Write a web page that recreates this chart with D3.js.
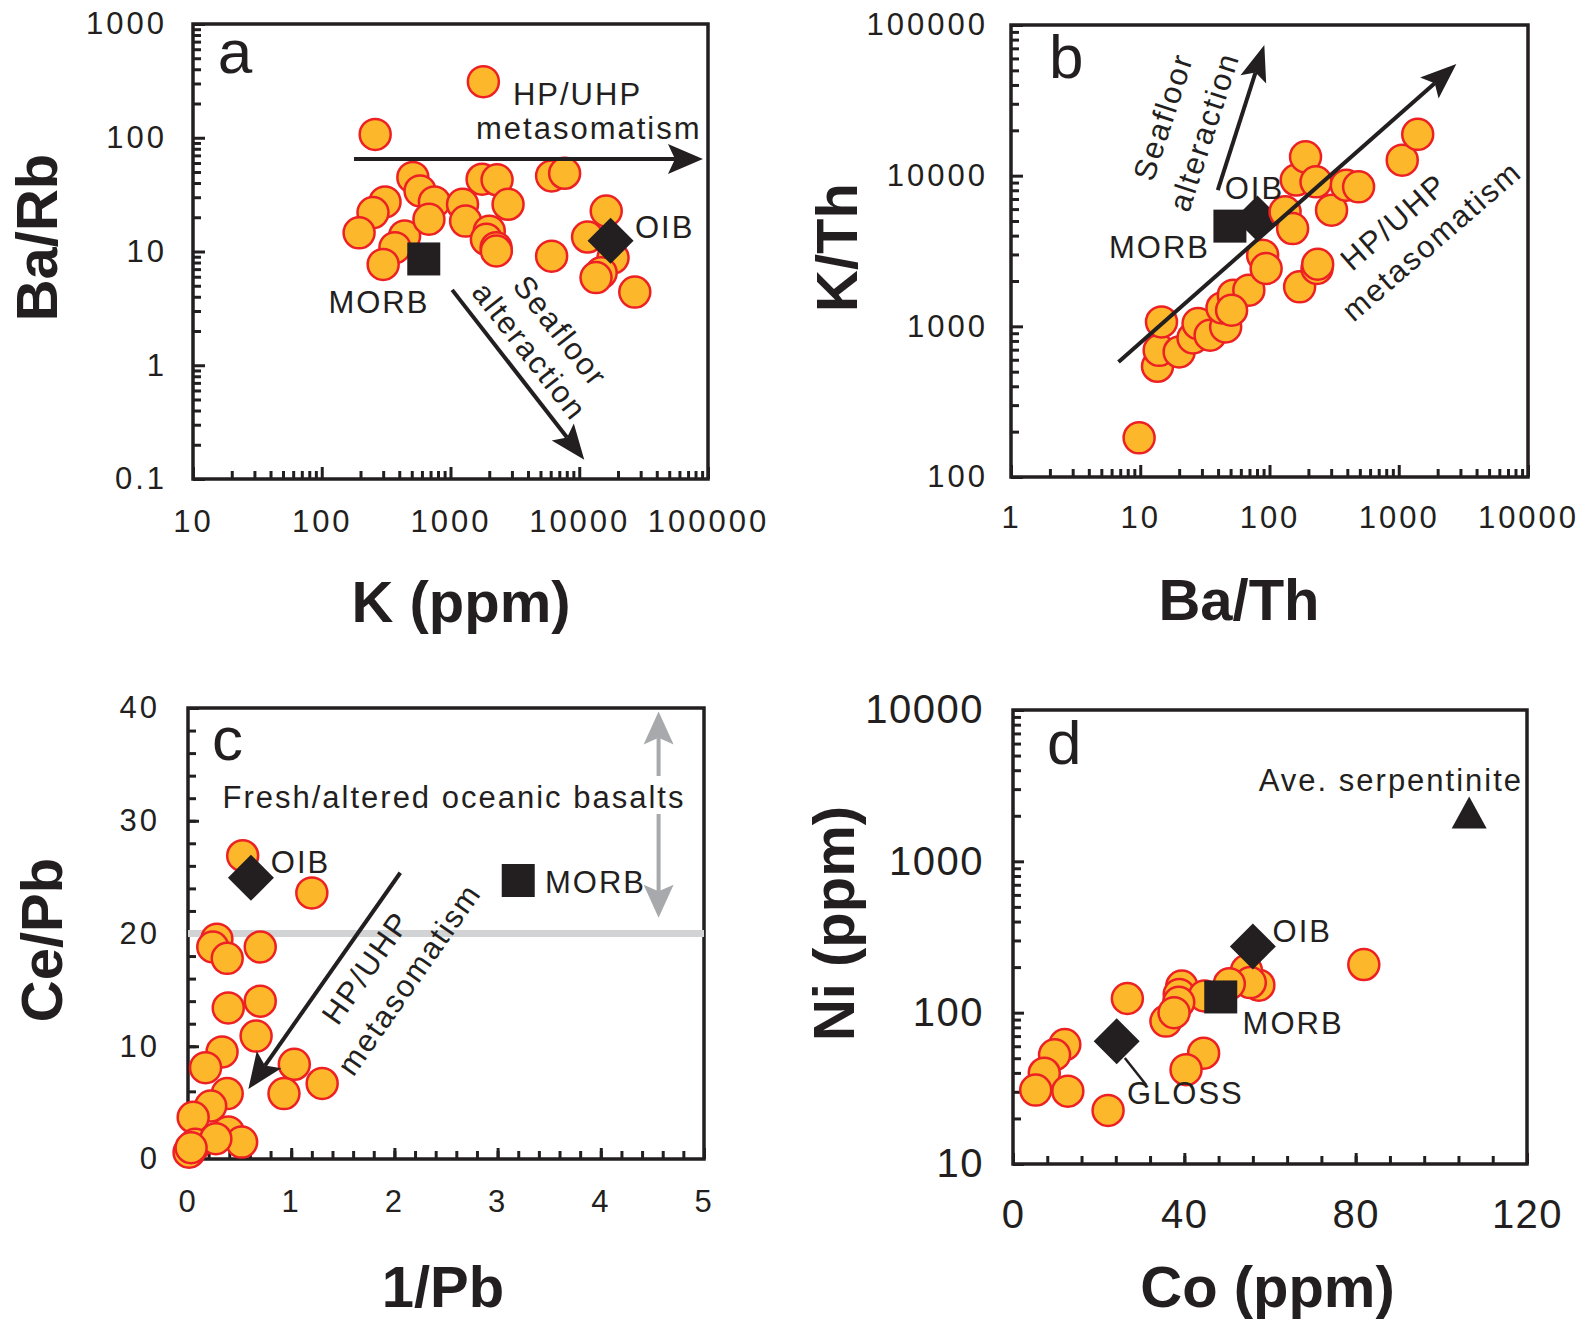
<!DOCTYPE html>
<html>
<head>
<meta charset="utf-8">
<script src="https://cdnjs.cloudflare.com/ajax/libs/d3/7.8.5/d3.min.js"></script>
<style>
  body { margin: 0; background: #fff; }
  svg text { font-family: "Liberation Sans", Arial, sans-serif; fill: #231f20; }
</style>
</head>
<body>
<div id="chart"></div>
<script>
'use strict';

// ---- panel a : Ba/Rb vs K ----
var aK = [1800, 260, 510, 580, 750, 310, 250, 195, 440, 370, 300, 680, 1760, 2300, 1240,
  2800, 1310, 2000, 1900, 2260, 2270, 6100, 7700, 6100, 16200, 11600, 18300, 14800, 13500, 27000];
var aBaRb = [311, 107, 44.8, 34.1, 27.3, 27.3, 22, 14.6, 13.7, 10.8, 7.7, 19.2, 43.2, 42.7, 26,
  26, 18.5, 15.1, 12.8, 10.8, 10.1, 46.2, 48.7, 9.1, 22.7, 13.4, 8.8, 6.5, 5.9, 4.4];
var aRefName = ["MORB", "OIB"];
var aRefK = [620, 17500];
var aRefBaRb = [8.6, 12.4];

// ---- panel b : K/Th vs Ba/Th ----
var bBaTh = [9.8, 13.6, 14, 14.6, 20, 25.6, 28, 34.7, 45.8, 42.9, 52.5, 69.2, 50.9, 88.5,
  94.2, 132, 151, 161, 190, 229, 302, 393, 489, 171, 233, 236, 1064, 1402];
var bKTh = [182, 543, 693, 1070, 676, 837, 1043, 873, 991, 1324, 1611, 1738, 1279, 2966,
  2421, 5754, 4455, 9354, 13340, 9100, 5900, 8650, 8430, 1828, 2421, 2583, 12680, 18800];
var bRefName = ["MORB", "OIB"];
var bRefBaTh = [49.4, 80.7];
var bRefKTh = [4625, 5200];

// ---- panel c : Ce/Pb vs 1/Pb ----
var cInvPb = [0.53, 1.20, 0.28, 0.24, 0.38, 0.70, 0.39, 0.70, 0.66, 0.33, 0.17, 1.03,
  0.93, 1.30, 0.38, 0.22, 0.05, 0.39, 0.52, 0.07, 0.01, 0.27, 0.03];
var cCePb = [26.9, 23.6, 19.5, 18.8, 17.8, 18.8, 13.4, 14.0, 10.9, 9.5, 8.1, 8.4,
  5.8, 6.7, 5.8, 4.7, 3.7, 2.4, 1.5, 1.3, 0.6, 1.8, 1.0];
var cRefName = ["MORB", "OIB"];
var cRefInvPb = [3.2, 0.61];
var cRefCePb = [24.7, 24.95];
var cFreshLine = 20;

// ---- panel d : Ni vs Co ----
var dCo = [81.9, 57.4, 54.5, 55.4, 50.5, 39.4, 38.8, 44.7, 38.7, 35.7, 37.6, 26.7,
  44.5, 40.4, 12.1, 9.7, 7.3, 5.3, 12.8, 22.2];
var dNi = [208, 152, 190, 158, 155, 150, 132, 129, 117, 88, 100, 124,
  54, 42, 61.5, 52.7, 39.8, 30.8, 30.3, 22.6];
var dRefName = ["MORB", "OIB", "GLOSS"];
var dRefCo = [48.5, 56, 24.2];
var dRefNi = [127, 274, 64.7];
var dSerpCo = [106.5];
var dSerpNi = [2100];

// ---- tick labels ----
var aXTicks = [10, 100, 1000, 10000, 100000];
var aYTicks = [0.1, 1, 10, 100, 1000];
var bXTicks = [1, 10, 100, 1000, 10000];
var bYTicks = [100, 1000, 10000, 100000];
var cXTicks = [0, 1, 2, 3, 4, 5];
var cYTicks = [0, 10, 20, 30, 40];
var dXTicks = [0, 40, 80, 120];
var dYTicks = [10, 100, 1000, 10000];

var ink = "#231f20";
var fillOrange = "#fdb72a";
var strokeRed = "#ed2024";
var circleR = 15.5;
var titleSize = 58;

var svg = d3.select("#chart").append("svg")
  .attr("width", 1585)
  .attr("height", 1320);

function logMinor(lo, hi) {
  var out = [];
  for (var e = Math.log10(lo); e < Math.log10(hi); e++) {
    for (var k = 2; k <= 9; k++) {
      out.push(k * Math.pow(10, e));
    }
  }
  return out;
}

function arrow(g, x1, y1, x2, y2, color, headLen, headW) {
  var dx = x2 - x1, dy = y2 - y1;
  var len = Math.sqrt(dx * dx + dy * dy);
  var ux = dx / len, uy = dy / len, px = -uy, py = ux;
  var bx = x2 - ux * headLen, by = y2 - uy * headLen;
  var nx = x2 - ux * headLen * 0.8, ny = y2 - uy * headLen * 0.8;
  g.append("line")
    .attr("x1", x1).attr("y1", y1)
    .attr("x2", nx).attr("y2", ny)
    .attr("stroke", color)
    .attr("stroke-width", 4);
  g.append("path")
    .attr("d", "M" + x2 + "," + y2 +
      "L" + (bx + px * headW / 2) + "," + (by + py * headW / 2) +
      "L" + nx + "," + ny +
      "L" + (bx - px * headW / 2) + "," + (by - py * headW / 2) + "Z")
    .attr("fill", color);
}

function label(g, str, x, y, size, opts) {
  opts = opts || {};
  var t = g.append("text")
    .text(str)
    .attr("font-size", size)
    .attr("letter-spacing", opts.ls === undefined ? 2 : opts.ls)
    .attr("text-anchor", opts.anchor || "start");
  if (opts.rotate) {
    t.attr("transform", "translate(" + x + "," + y + ") rotate(" + opts.rotate + ")")
      .attr("dy", "0.35em");
  } else {
    t.attr("x", x).attr("y", y);
  }
  if (opts.bold) t.attr("font-weight", "bold");
  return t;
}

// bold axis title, rotated titles keep their baseline at x
function title(str, x, y, vertical) {
  var t = svg.append("text")
    .text(str)
    .attr("font-size", titleSize)
    .attr("font-weight", "bold")
    .attr("text-anchor", "middle");
  if (vertical) {
    t.attr("transform", "translate(" + x + "," + y + ") rotate(-90)");
  } else {
    t.attr("x", x).attr("y", y);
  }
}

function drawFrame(p) {
  var g = svg.append("g");
  var x0 = p.x.range()[0], x1 = p.x.range()[1];
  var y0 = p.y.range()[1], y1 = p.y.range()[0];

  var axes = [
    [d3.axisBottom(p.x).tickValues(p.xMinor).tickSize(-p.minorLen).tickFormat(""), "translate(0," + y1 + ")"],
    [d3.axisBottom(p.x).tickValues(p.xMajor).tickSize(-p.majorLen).tickPadding(p.xPad)
      .tickFormat(function (d) { return String(d); }), "translate(0," + y1 + ")"],
    [d3.axisLeft(p.y).tickValues(p.yMinor).tickSize(-p.minorLen).tickFormat(""), "translate(" + x0 + ",0)"],
    [d3.axisLeft(p.y).tickValues(p.yMajor).tickSize(-p.majorLen).tickPadding(p.yPad)
      .tickFormat(function (d) { return String(d); }), "translate(" + x0 + ",0)"]
  ];
  axes.forEach(function (a) {
    var ax = g.append("g").attr("transform", a[1]).call(a[0]);
    ax.select(".domain").remove();
    ax.selectAll(".tick line").attr("stroke", ink).attr("stroke-width", 3);
    ax.selectAll(".tick text")
      .attr("fill", ink)
      .attr("font-family", "Liberation Sans, Arial, sans-serif")
      .attr("font-size", p.tickFont)
      .attr("letter-spacing", p.tickLs);
  });

  g.append("rect")
    .attr("x", x0).attr("y", y0)
    .attr("width", x1 - x0).attr("height", y1 - y0)
    .attr("fill", "none")
    .attr("stroke", ink)
    .attr("stroke-width", 3.5);
  return g;
}

function drawCircles(g, p, xs, ys) {
  g.selectAll("circle.sample")
    .data(xs.map(function (v, i) { return [v, ys[i]]; }))
    .enter()
    .append("circle")
    .attr("class", "sample")
    .attr("cx", function (d) { return p.x(d[0]); })
    .attr("cy", function (d) { return p.y(d[1]); })
    .attr("r", circleR)
    .attr("fill", fillOrange)
    .attr("stroke", strokeRed)
    .attr("stroke-width", 2.5);
}

function drawRef(g, p, names, xs, ys) {
  names.forEach(function (n, i) {
    var cx = p.x(xs[i]), cy = p.y(ys[i]);
    if (n === "MORB") {
      g.append("rect")
        .attr("x", cx - 16.5).attr("y", cy - 16.5)
        .attr("width", 33).attr("height", 33)
        .attr("fill", ink);
    } else {
      var s = 23;
      g.append("path")
        .attr("d", "M" + cx + "," + (cy - s) + "L" + (cx + s) + "," + cy +
          "L" + cx + "," + (cy + s) + "L" + (cx - s) + "," + cy + "Z")
        .attr("fill", ink);
    }
  });
}

// ================= panel a =================
var pa = {
  x: d3.scaleLog().domain([10, 100000]).range([193, 708]),
  y: d3.scaleLog().domain([0.1, 1000]).range([479, 24]),
  xMajor: aXTicks, yMajor: aYTicks,
  xMinor: logMinor(10, 100000), yMinor: logMinor(0.1, 1000),
  majorLen: 12, minorLen: 8, xPad: 31, yPad: 26, tickFont: 31, tickLs: 3
};
var ga = drawFrame(pa);
drawCircles(ga, pa, aK, aBaRb);
drawRef(ga, pa, aRefName, aRefK, aRefBaRb);
arrow(ga, pa.x(178), pa.y(65), pa.x(91400), pa.y(65), ink, 35, 30);
arrow(ga, pa.x(1030), pa.y(4.6), pa.x(10940), pa.y(0.148), ink, 35, 28);
label(ga, "a", pa.x(15.6), pa.y(371), 62, { ls: 0 });
label(ga, "HP/UHP", pa.x(3055), pa.y(194), 31);
label(ga, "metasomatism", pa.x(1578), pa.y(97.5), 31);
label(ga, "MORB", pa.x(112.7), pa.y(2.86), 31);
label(ga, "OIB", pa.x(27100), pa.y(13.2), 31);
label(ga, "Seafloor", pa.x(7160), pa.y(2.0), 31, { anchor: "middle", rotate: 52 });
label(ga, "alteraction", pa.x(4140), pa.y(1.33), 31, { anchor: "middle", rotate: 52 });
title("Ba/Rb", 57, 237.5, true);
title("K (ppm)", 461, 622, false);

// ================= panel b =================
var pb = {
  x: d3.scaleLog().domain([1, 10000]).range([1011, 1528]),
  y: d3.scaleLog().domain([100, 100000]).range([477, 25]),
  xMajor: bXTicks, yMajor: bYTicks,
  xMinor: logMinor(1, 10000), yMinor: logMinor(100, 100000),
  majorLen: 12, minorLen: 8, xPad: 29, yPad: 23, tickFont: 31, tickLs: 3
};
var gb = drawFrame(pb);
drawRef(gb, pb, bRefName, bRefBaTh, bRefKTh);
drawCircles(gb, pb, bBaTh, bKTh);
arrow(gb, pb.x(39.8), pb.y(8020), pb.x(91.2), pb.y(73600), ink, 36, 27);
arrow(gb, pb.x(6.79), pb.y(579), pb.x(2790), pb.y(55000), ink, 36, 28);
label(gb, "b", pb.x(1.97), pb.y(44300), 62, { ls: 0 });
label(gb, "OIB", pb.x(45), pb.y(7050), 31);
label(gb, "MORB", pb.x(5.73), pb.y(2820), 31);
label(gb, "Seafloor", pb.x(15), pb.y(24600), 31, { anchor: "middle", rotate: -72 });
label(gb, "alteraction", pb.x(31.1), pb.y(19600), 31, { anchor: "middle", rotate: -72 });
label(gb, "HP/UHP", pb.x(912), pb.y(4940), 31, { anchor: "middle", rotate: -41 });
label(gb, "metasomatism", pb.x(1792), pb.y(3700), 31, { anchor: "middle", rotate: -41 });
title("K/Th", 857, 247.5, true);
title("Ba/Th", 1239, 620, false);

// ================= panel c =================
var pc = {
  x: d3.scaleLinear().domain([0, 5]).range([188, 704]),
  y: d3.scaleLinear().domain([0, 40]).range([1159, 708]),
  xMajor: cXTicks, yMajor: cYTicks,
  xMinor: d3.range(0, 5.001, 0.2), yMinor: d3.range(0, 40.001, 2),
  majorLen: 11, minorLen: 8, xPad: 31, yPad: 28, tickFont: 31, tickLs: 3
};
var gc = drawFrame(pc);
gc.append("line")
  .attr("x1", pc.x(0)).attr("x2", pc.x(5))
  .attr("y1", pc.y(cFreshLine)).attr("y2", pc.y(cFreshLine))
  .attr("stroke", "#d1d3d4").attr("stroke-width", 7);
drawCircles(gc, pc, cInvPb, cCePb);
drawRef(gc, pc, cRefName, cRefInvPb, cRefCePb);
arrow(gc, pc.x(2.057), pc.y(25.39), pc.x(0.585), pc.y(6.2), ink, 36, 30);
arrow(gc, pc.x(4.56), pc.y(33.97), pc.x(4.56), pc.y(39.7), "#a7a9ac", 33, 30);
arrow(gc, pc.x(4.56), pc.y(30.6), pc.x(4.56), pc.y(21.4), "#a7a9ac", 33, 30);
label(gc, "c", pc.x(0.233), pc.y(35.42), 62, { ls: 0 });
label(gc, "Fresh/altered oceanic basalts", pc.x(0.334), pc.y(31.15), 31);
label(gc, "OIB", pc.x(0.802), pc.y(25.39), 31);
label(gc, "MORB", pc.x(3.459), pc.y(23.62), 31);
label(gc, "HP/UHP", pc.x(1.723), pc.y(16.98), 31, { anchor: "middle", rotate: -55 });
label(gc, "metasomatism", pc.x(2.141), pc.y(15.96), 31, { anchor: "middle", rotate: -55 });
title("Ce/Pb", 62, 940, true);
title("1/Pb", 443, 1307, false);

// ================= panel d =================
var pd = {
  x: d3.scaleLinear().domain([0, 120]).range([1013, 1527]),
  y: d3.scaleLog().domain([10, 10000]).range([1164, 710]),
  xMajor: dXTicks, yMajor: dYTicks,
  xMinor: d3.range(0, 120.001, 8), yMinor: logMinor(10, 10000),
  majorLen: 11, minorLen: 8, xPad: 36, yPad: 29, tickFont: 40, tickLs: 1.5
};
var gd = drawFrame(pd);
drawCircles(gd, pd, dCo, dNi);
drawRef(gd, pd, dRefName, dRefCo, dRefNi);
gd.append("line")
  .attr("x1", pd.x(26.1)).attr("y1", pd.y(50.1))
  .attr("x2", pd.x(31.1)).attr("y2", pd.y(33.3))
  .attr("stroke", ink).attr("stroke-width", 2.5);
dSerpCo.forEach(function (v, i) {
  var cx = pd.x(v), cy = pd.y(dSerpNi[i]);
  gd.append("path")
    .attr("d", "M" + cx + "," + (cy - 16) + "L" + (cx + 17.5) + "," + (cy + 16) +
      "L" + (cx - 17.5) + "," + (cy + 16) + "Z")
    .attr("fill", ink);
});
label(gd, "d", pd.x(7.94), pd.y(4406), 62, { ls: 0 });
label(gd, "Ave. serpentinite", pd.x(57.37), pd.y(2930), 31);
label(gd, "OIB", pd.x(60.6), pd.y(293), 31);
label(gd, "MORB", pd.x(53.6), pd.y(71.8), 31);
label(gd, "GLOSS", pd.x(26.6), pd.y(25.1), 31);
title("Ni (ppm)", 854, 923.5, true);
title("Co (ppm)", 1267.5, 1307, false);
</script>
</body>
</html>
